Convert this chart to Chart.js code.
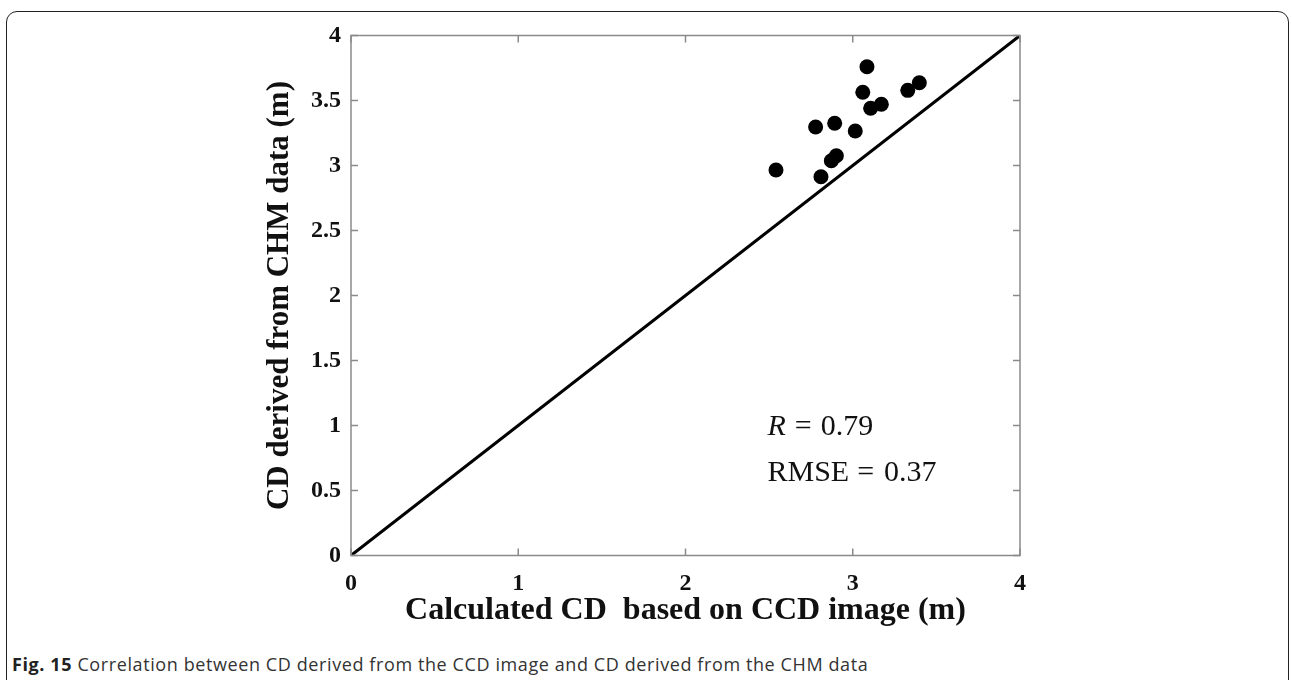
<!DOCTYPE html>
<html>
<head>
<meta charset="utf-8">
<script src="https://cdn.jsdelivr.net/npm/chart.js@4/dist/chart.umd.min.js"></script>
<style>
  html, body { margin: 0; padding: 0; background: #fff; }
  body { width: 1292px; height: 680px; position: relative; overflow: hidden; }
  #frame { position: absolute; left: 6px; top: 11px; width: 1283px; height: 700px;
           border: 1.5px solid #222; border-radius: 11px; box-sizing: border-box; }
  #wrap { position: absolute; left: 0; top: 0; width: 1292px; height: 640px; }
  #caption { position: absolute; left: 12px; top: 652px; font-family: "Open Sans", sans-serif;
             font-size: 18px; letter-spacing: 0.6px; color: #333; white-space: nowrap; line-height: 24px; }
  #caption b { color: #222; }
</style>
</head>
<body>
<div id="frame"></div>
<div id="wrap"><canvas id="c" width="1292" height="640"></canvas></div>
<div id="caption"><b>Fig. 15</b> Correlation between CD derived from the CCD image and CD derived from the CHM data</div>
<script>
// Calculated CD based on CCD image (m)
const calcCD = [3.085, 3.06, 3.398, 3.329, 3.107, 3.171, 2.778, 2.892, 3.015, 2.902, 2.872, 2.541, 2.810];
// CD derived from CHM data (m)
const chmCD  = [3.76, 3.563, 3.637, 3.578, 3.44, 3.471, 3.296, 3.325, 3.265, 3.075, 3.037, 2.965, 2.914];
// 1:1 reference line
const lineX = [0, 4];
const lineY = [0, 4];
// ticks
const xTicks = [0, 1, 2, 3, 4];
const xTickLabels = ['0', '1', '2', '3', '4'];
const yTicks = [0, 0.5, 1, 1.5, 2, 2.5, 3, 3.5, 4];
const yTickLabels = ['0', '0.5', '1', '1.5', '2', '2.5', '3', '3.5', '4'];
// statistics
const statR = '0.79';
const statRMSE = '0.37';
const statPos = { x: 2.49, yR: 0.985, yRMSE: 0.635 };

const serif = '"Liberation Serif", "Times New Roman", serif';

const boxPlugin = {
  id: 'box',
  afterDatasetsDraw(chart) {
    const { ctx, chartArea: a, scales } = chart;
    const xs = scales.x, ys = scales.y;
    ctx.save();
    ctx.strokeStyle = '#8a8a8a';
    ctx.lineWidth = 1.5;
    ctx.strokeRect(a.left, a.top, a.right - a.left, a.bottom - a.top);
    const tl = 7;
    ctx.beginPath();
    xTicks.forEach(v => {
      const px = xs.getPixelForValue(v);
      ctx.moveTo(px, a.bottom); ctx.lineTo(px, a.bottom - tl);
      ctx.moveTo(px, a.top); ctx.lineTo(px, a.top + tl);
    });
    yTicks.forEach(v => {
      const py = ys.getPixelForValue(v);
      ctx.moveTo(a.left, py); ctx.lineTo(a.left + tl, py);
      ctx.moveTo(a.right, py); ctx.lineTo(a.right - tl, py);
    });
    ctx.stroke();
    // statistics text
    ctx.fillStyle = '#111';
    ctx.textBaseline = 'middle';
    ctx.textAlign = 'left';
    const sx = xs.getPixelForValue(statPos.x);
    const yR = ys.getPixelForValue(statPos.yR);
    const yM = ys.getPixelForValue(statPos.yRMSE);
    ctx.font = 'italic 30px ' + serif;
    ctx.fillText('R', sx, yR);
    let x1 = sx + ctx.measureText('R').width + 9;
    ctx.font = '30px ' + serif;
    const eqW = ctx.measureText('=').width;
    ctx.fillText('=', x1, yR);
    ctx.fillText(statR, x1 + eqW + 9, yR);
    ctx.fillText('RMSE', sx, yM);
    let x2 = sx + ctx.measureText('RMSE').width + 8;
    ctx.fillText('=', x2, yM);
    ctx.fillText(statRMSE, x2 + eqW + 10, yM);
    ctx.restore();
  }
};

const pts = calcCD.map((x, i) => ({ x: x, y: chmCD[i] }));
const linePts = lineX.map((x, i) => ({ x: x, y: lineY[i] }));

new Chart(document.getElementById('c'), {
  type: 'scatter',
  data: {
    datasets: [
      { type: 'line', data: linePts, borderColor: '#000', borderWidth: 3, pointRadius: 0, fill: false, order: 2 },
      { data: pts, backgroundColor: '#000', borderColor: '#000', borderWidth: 0, pointRadius: 7.5, pointHoverRadius: 7.5, order: 1 }
    ]
  },
  options: {
    responsive: false,
    animation: false,
    events: [],
    layout: { padding: { left: 240, right: 272, top: 35.5, bottom: 0 } },
    plugins: { legend: { display: false }, tooltip: { enabled: false } },
    scales: {
      x: {
        type: 'linear', position: 'bottom', min: 0, max: 4,
        afterBuildTicks: s => { s.ticks = xTicks.map(v => ({ value: v })); },
        afterFit: s => { s.height = 84.5; },
        grid: { display: false, drawTicks: false },
        border: { display: false },
        ticks: { padding: 14, color: '#111', font: { family: serif, size: 24, weight: 'bold' },
                 callback: (v) => xTickLabels[xTicks.indexOf(v)] },
        title: { display: true, text: 'Calculated CD  based on CCD image (m)', color: '#111',
                 font: { family: serif, size: 32, weight: 'bold' }, padding: { top: 0, bottom: 10 } }
      },
      y: {
        type: 'linear', position: 'left', min: 0, max: 4,
        afterBuildTicks: s => { s.ticks = yTicks.map(v => ({ value: v })); },
        afterFit: s => { s.width = 111; },
        grid: { display: false, drawTicks: false },
        border: { display: false },
        ticks: { padding: 10, color: '#111', font: { family: serif, size: 24, weight: 'bold' },
                 callback: (v) => yTickLabels[yTicks.indexOf(v)] },
        title: { display: true, text: 'CD derived from CHM data (m)', color: '#111',
                 font: { family: serif, size: 31, weight: 'bold' }, padding: { top: 21, bottom: 0 } }
      }
    }
  },
  plugins: [boxPlugin]
});
</script>
</body>
</html>
